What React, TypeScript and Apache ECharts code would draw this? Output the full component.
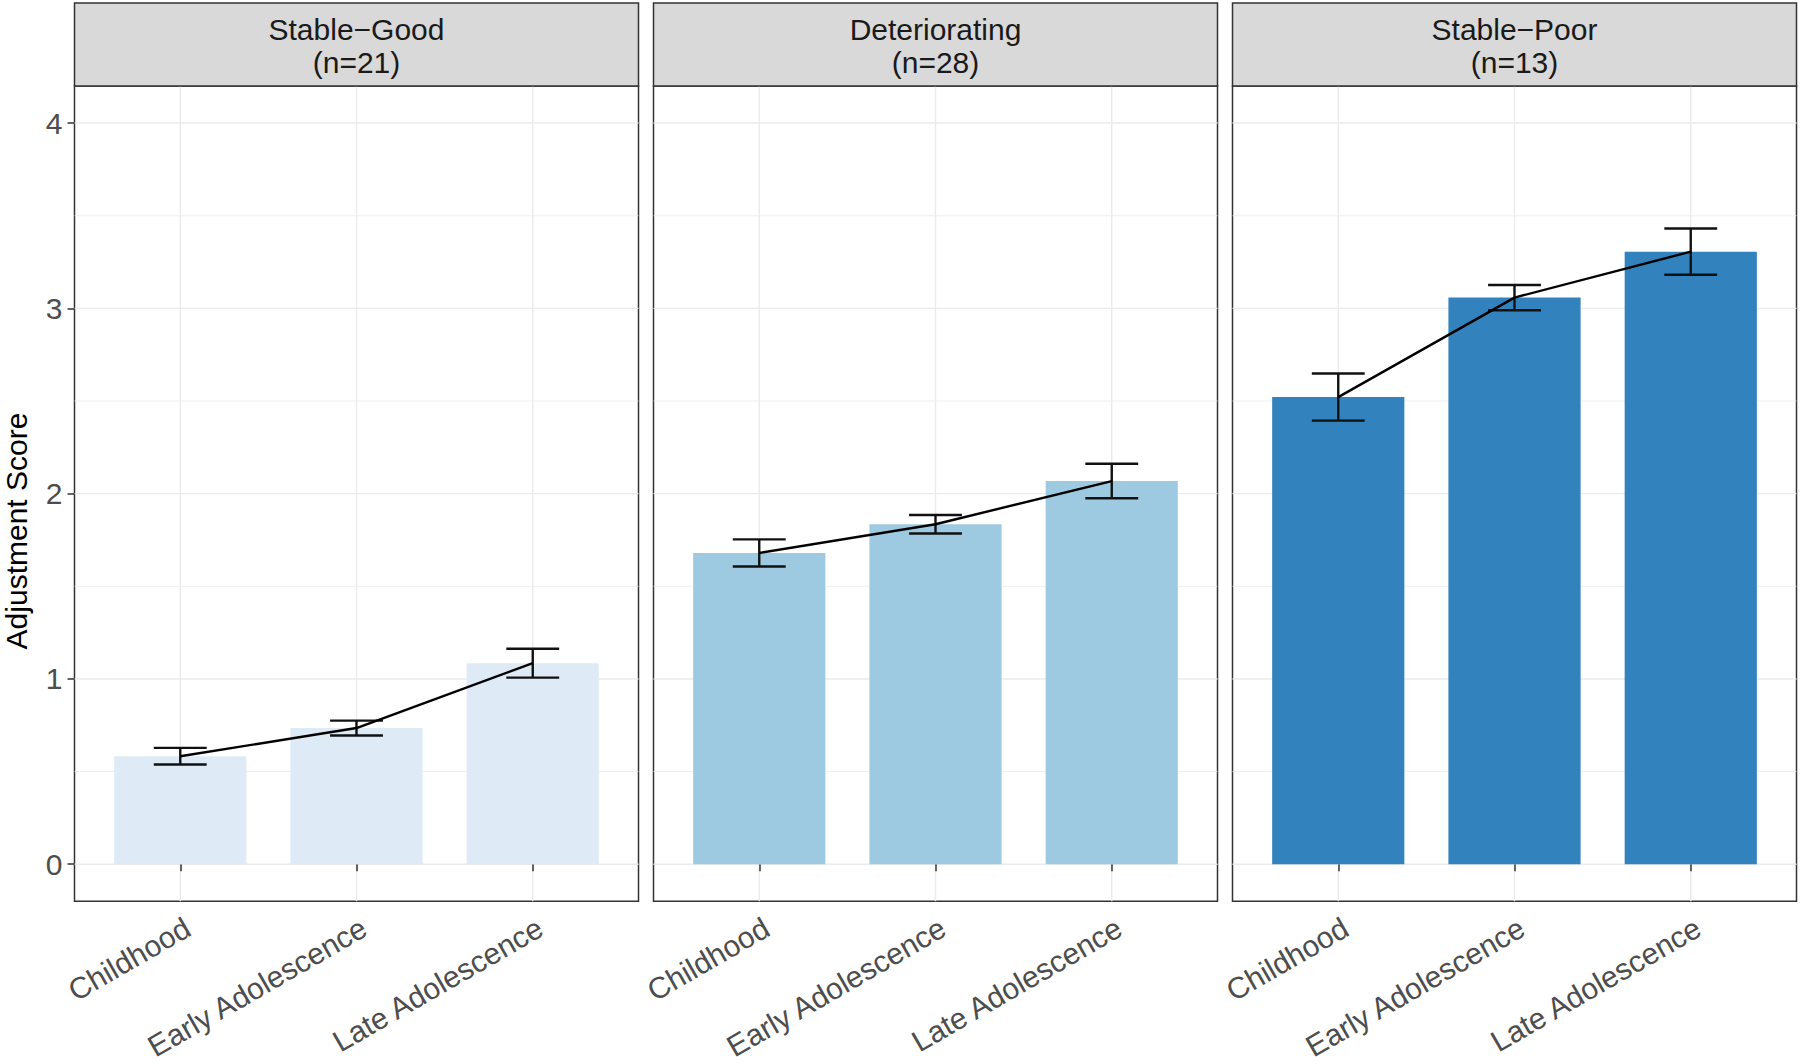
import React, { useEffect, useRef } from "react";
import * as echarts from "echarts";

const categories = ["Childhood", "Early Adolescence", "Late Adolescence"];
const categoryPositions = [1, 2, 3];
const panelTitles = ["Stable\u2212Good", "Deteriorating", "Stable\u2212Poor"];
const panelCounts = ["(n=21)", "(n=28)", "(n=13)"];

const meansStableGood = [0.583, 0.735, 1.085];
const seStableGood = [0.045, 0.04, 0.078];
const meansDeteriorating = [1.68, 1.835, 2.068];
const seDeteriorating = [0.073, 0.05, 0.093];
const meansStablePoor = [2.521, 3.058, 3.306];
const seStablePoor = [0.127, 0.068, 0.125];

const yTicks = [0, 1, 2, 3, 4];
const yMinorTicks = [0.5, 1.5, 2.5, 3.5];

const barColors = ["#deebf7", "#9ecae1", "#3182bd"];

const FONT = "Liberation Sans, Arial, Helvetica, sans-serif";
const PANEL_LEFTS = [74.5, 653.5, 1232.5];
const PANEL_W = 564;
const PANEL_TOP = 86;
const PANEL_BOTTOM = 904;
const X_MIN = 0.4;
const X_MAX = 3.6;
const BAR_FRAC = 0.75;
const CAP_FRAC = 0.3;

export default function App() {
  const ref = useRef<HTMLDivElement>(null);

  useEffect(() => {
    if (!ref.current) return;
    const chart = echarts.init(ref.current, undefined, { renderer: "svg" });

    const means = [meansStableGood, meansDeteriorating, meansStablePoor];
    const ses = [seStableGood, seDeteriorating, seStablePoor];
    const unitPx = PANEL_W / (X_MAX - X_MIN);

    const grids: any[] = [];
    const xAxes: any[] = [];
    const yAxes: any[] = [];
    const series: any[] = [];
    const graphics: any[] = [];

    for (let p = 0; p < 3; p++) {
      grids.push({
        left: PANEL_LEFTS[p],
        top: PANEL_TOP,
        width: PANEL_W,
        height: PANEL_BOTTOM - PANEL_TOP,
        show: true,
        borderColor: "#333333",
        borderWidth: 1.5,
        backgroundColor: "transparent",
        containLabel: false,
      });
      xAxes.push({
        type: "value",
        gridIndex: p,
        min: X_MIN,
        max: X_MAX,
        axisLine: { show: false },
        splitLine: { show: false },
        axisTick: {
          show: true,
          customValues: categoryPositions,
          length: 7,
          lineStyle: { color: "#333333", width: 1.5 },
        },
        axisLabel: {
          show: true,
          customValues: categoryPositions,
          rotate: 30,
          margin: 11,
          align: "right",
          verticalAlign: "top",
          fontSize: 30,
          fontFamily: FONT,
          color: "#4d4d4d",
          formatter: (v: number) => categories[Math.round(v) - 1] ?? "",
        },
      });
      yAxes.push({
        type: "value",
        gridIndex: p,
        min: -0.2,
        max: 4.2,
        axisLine: { show: false },
        splitLine: { show: false },
        axisTick: {
          show: p === 0,
          customValues: yTicks,
          length: 7,
          lineStyle: { color: "#333333", width: 1.5 },
        },
        axisLabel: {
          show: p === 0,
          customValues: yTicks,
          margin: 12,
          fontSize: 30,
          fontFamily: FONT,
          color: "#4d4d4d",
        },
      });

      // horizontal grid lines
      const hData = yTicks
        .map((v) => [categoryPositions[0], v, 1])
        .concat(yMinorTicks.map((v) => [categoryPositions[0], v, 0]));
      series.push({
        type: "custom",
        xAxisIndex: p,
        yAxisIndex: p,
        z: 0,
        silent: true,
        data: hData,
        encode: { x: 0, y: 1 },
        renderItem: (params: any, api: any) => {
          const cs = params.coordSys;
          const y = api.coord([api.value(0), api.value(1)])[1];
          const major = api.value(2) === 1;
          return {
            type: "line",
            shape: { x1: cs.x, y1: y, x2: cs.x + cs.width, y2: y },
            style: { stroke: "#ebebeb", lineWidth: major ? 1.4 : 0.8 },
          };
        },
      });
      // vertical grid lines
      series.push({
        type: "custom",
        xAxisIndex: p,
        yAxisIndex: p,
        z: 0,
        silent: true,
        data: categoryPositions.map((c) => [c, 0]),
        encode: { x: 0, y: 1 },
        renderItem: (params: any, api: any) => {
          const cs = params.coordSys;
          const x = api.coord([api.value(0), 0])[0];
          return {
            type: "line",
            shape: { x1: x, y1: cs.y, x2: x, y2: cs.y + cs.height },
            style: { stroke: "#ebebeb", lineWidth: 1.4 },
          };
        },
      });
      // bars
      series.push({
        type: "bar",
        xAxisIndex: p,
        yAxisIndex: p,
        z: 2,
        barWidth: unitPx * BAR_FRAC,
        itemStyle: { color: barColors[p] },
        data: categoryPositions.map((c, i) => [c, means[p][i]]),
      });
      // line through means
      series.push({
        type: "line",
        xAxisIndex: p,
        yAxisIndex: p,
        z: 5,
        symbol: "none",
        lineStyle: { color: "#000000", width: 2.4 },
        data: categoryPositions.map((c, i) => [c, means[p][i]]),
      });
      // error bars
      series.push({
        type: "custom",
        xAxisIndex: p,
        yAxisIndex: p,
        z: 4,
        data: categoryPositions.map((c, i) => [c, means[p][i], ses[p][i]]),
        encode: { x: 0, y: 1 },
        renderItem: (params: any, api: any) => {
          const x = api.value(0);
          const m = api.value(1);
          const s = api.value(2);
          const top = api.coord([x, m + s]);
          const bot = api.coord([x, m - s]);
          const half = api.size([CAP_FRAC, 0])[0] / 2;
          const st = { stroke: "#111111", lineWidth: 2.4 };
          return {
            type: "group",
            children: [
              { type: "line", shape: { x1: top[0], y1: top[1], x2: bot[0], y2: bot[1] }, style: st },
              { type: "line", shape: { x1: top[0] - half, y1: top[1], x2: top[0] + half, y2: top[1] }, style: st },
              { type: "line", shape: { x1: bot[0] - half, y1: bot[1], x2: bot[0] + half, y2: bot[1] }, style: st },
            ],
          };
        },
      });

      // strip
      graphics.push({
        type: "rect",
        shape: { x: PANEL_LEFTS[p], y: 3, width: PANEL_W, height: PANEL_TOP - 3 },
        style: { fill: "#d9d9d9", stroke: "#333333", lineWidth: 1.5 },
        z: 10,
      });
      graphics.push({
        type: "text",
        x: PANEL_LEFTS[p] + PANEL_W / 2,
        y: 46,
        z: 11,
        style: {
          text: panelTitles[p] + "\n" + panelCounts[p],
          fontSize: 30,
          fontFamily: FONT,
          fill: "#1a1a1a",
          textAlign: "center",
          textVerticalAlign: "middle",
          lineHeight: 33,
        },
      });
    }

    graphics.push({
      type: "text",
      x: 16,
      y: 531,
      rotation: Math.PI / 2,
      style: {
        text: "Adjustment Score",
        fontSize: 30,
        lineHeight: 30,
        fontFamily: FONT,
        fill: "#000000",
        textAlign: "center",
        textVerticalAlign: "middle",
      },
    });

    chart.setOption({
      animation: false,
      backgroundColor: "#ffffff",
      grid: grids,
      xAxis: xAxes,
      yAxis: yAxes,
      series,
      graphic: graphics,
    });

    return () => chart.dispose();
  }, []);

  return (
    <div
      ref={ref}
      style={{ position: "fixed", left: 0, top: 0, width: 1800, height: 1064 }}
    />
  );
}
